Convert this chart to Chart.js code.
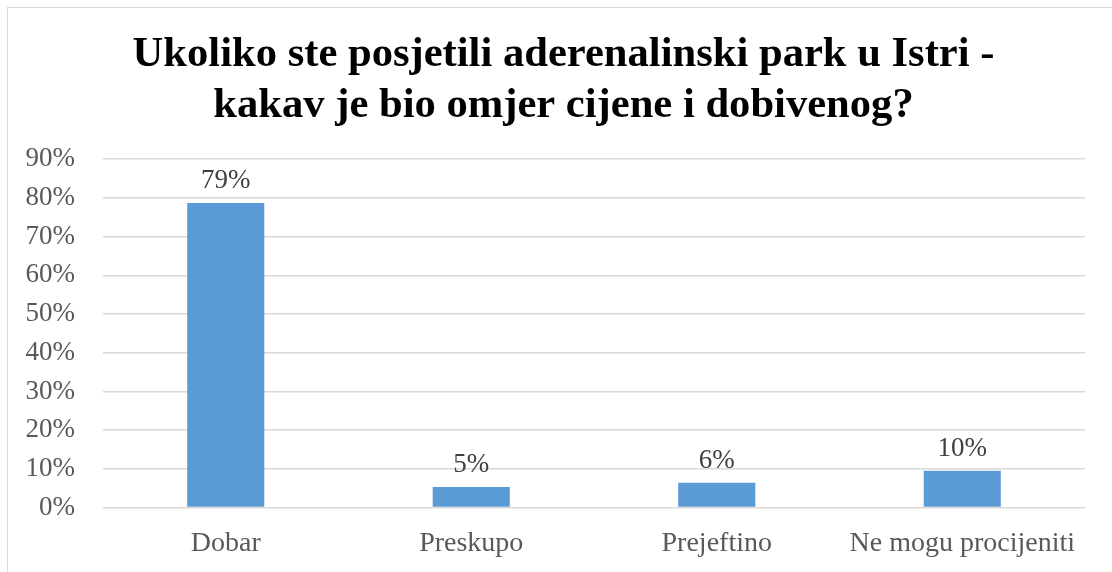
<!DOCTYPE html>
<html>
<head>
<meta charset="utf-8">
<script src="https://cdn.jsdelivr.net/npm/chart.js@4.4.1/dist/chart.umd.min.js"></script>
<style>
  html, body { margin: 0; padding: 0; background: #fff; }
  #wrap { position: relative; width: 1112px; height: 572px; }
  #frame { position: absolute; left: 7px; top: 7px; width: 1120px; height: 580px;
           border: 1px solid #d9d9d9; box-sizing: border-box; }
  canvas { position: absolute; left: 0; top: 0; }
</style>
</head>
<body>
<div id="wrap">
  <div id="frame"></div>
  <canvas id="chart" width="1112" height="572"></canvas>
</div>
<script>
// ---- Data ----
const TITLE_LINES = ["Ukoliko ste posjetili aderenalinski park u Istri -", "kakav je bio omjer cijene i dobivenog?"];
const CATEGORIES  = ["Dobar", "Preskupo", "Prejeftino", "Ne mogu procijeniti"];
const VALUES      = [0.787, 0.053, 0.064, 0.095];
const Y_MAX       = 0.9;
const Y_STEP      = 0.1;

const SERIF = "'Liberation Serif', 'Times New Roman', serif";

// data labels above bars
const barLabels = {
  id: "barLabels",
  afterDatasetsDraw(chart) {
    const ctx = chart.ctx;
    const meta = chart.getDatasetMeta(0);
    ctx.save();
    ctx.font = "27px " + SERIF;
    ctx.fillStyle = "#404040";
    ctx.textAlign = "center";
    ctx.textBaseline = "alphabetic";
    meta.data.forEach((bar, i) => {
      ctx.fillText(Math.round(VALUES[i] * 100) + "%", bar.x, bar.y - 15);
    });
    ctx.restore();
  }
};

// title sits a bit right of the canvas centre, as in the original
const titleShift = {
  id: "titleShift",
  afterLayout(chart) {
    const t = chart.titleBlock;
    if (t) { t.left += 14; t.right += 14; }
  }
};

new Chart(document.getElementById("chart"), {
  type: "bar",
  data: {
    labels: CATEGORIES,
    datasets: [{
      data: VALUES,
      backgroundColor: "#5b9bd5",
      borderWidth: 0,
      barPercentage: 0.314,
      categoryPercentage: 1.0,
    }]
  },
  options: {
    responsive: false,
    animation: false,
    layout: { padding: { left: 14, right: 27, top: 20, bottom: 0 } },
    plugins: {
      legend: { display: false },
      tooltip: { enabled: false },
      title: {
        display: true,
        text: TITLE_LINES,
        color: "#000",
        font: { family: SERIF, size: 42.6, weight: "bold", lineHeight: 1.2 },
        padding: { top: 9, bottom: 28 },
      }
    },
    scales: {
      x: {
        afterFit(scale) { scale.height = 64.5; },
        grid: { display: false, drawTicks: false },
        border: { display: false },
        ticks: { color: "#595959", font: { family: SERIF, size: 28 }, padding: 19 }
      },
      y: {
        min: 0, max: Y_MAX,
        afterFit(scale) { scale.width = 89; },
        grid: { color: "#d9d9d9", lineWidth: 1.5, drawTicks: false },
        border: { display: false },
        ticks: {
          stepSize: Y_STEP,
          color: "#595959",
          font: { family: SERIF, size: 27 },
          padding: 28,
          callback: v => Math.round(v * 100) + "%"
        }
      }
    }
  },
  plugins: [barLabels, titleShift]
});
</script>
</body>
</html>
